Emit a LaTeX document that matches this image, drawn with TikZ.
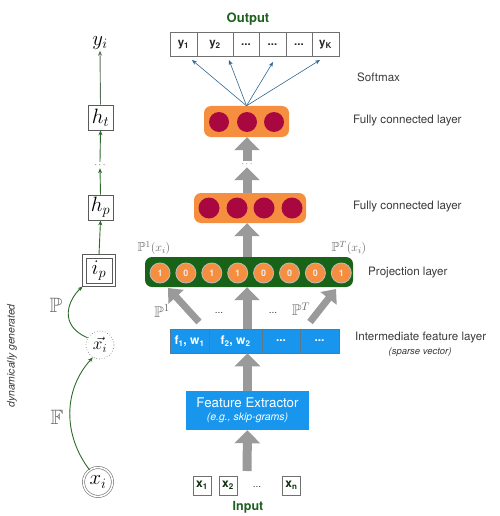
\documentclass[tikz,border=0pt]{standalone}
\usepackage{amssymb}
\usepackage[no-math]{fontspec}
\setmainfont{TeX Gyre Heros}
\setsansfont{TeX Gyre Heros}
\usetikzlibrary{arrows.meta,calc}
\definecolor{outgreen}{HTML}{1F5F1F}
\definecolor{projgreen}{HTML}{186318}
\definecolor{fcorange}{HTML}{F68E40}
\definecolor{magentac}{HTML}{A8083F}
\definecolor{featblue}{HTML}{1896EE}
\definecolor{arrgray}{HTML}{9A9A9A}
\definecolor{softblue}{HTML}{3B7FB8}
\definecolor{txtgray}{HTML}{383C38}
\definecolor{leftgreen}{HTML}{2D6B2D}
\definecolor{cellgray}{HTML}{707070}
\definecolor{mathgray}{HTML}{6A6A6A}
\begin{document}
\begin{tikzpicture}[x=1pt,y=-1pt,
  lbl/.style={font=\fontsize{11.6}{13}\selectfont, text=txtgray, anchor=west, inner sep=0},
  outcell/.style={draw=cellgray, line width=0.6, minimum height=24, inner sep=0, font=\fontsize{11.5}{13}\selectfont\bfseries, text=black!85},
  featcell/.style={draw=cellgray!80!featblue, line width=0.5, fill=featblue, minimum height=24, inner sep=0, font=\fontsize{12}{13}\selectfont\bfseries, text=white},
  incell/.style={draw=cellgray, line width=0.6, minimum width=18, minimum height=19, inner sep=0, font=\fontsize{12}{12}\selectfont\bfseries, text=outgreen!50!black},
  fcbox/.style={fill=fcorange, rounded corners=7, inner sep=0},
  neuron/.style={circle, fill=magentac, inner sep=0, minimum size=20},
  projunit/.style={circle, fill=fcorange, draw=gray!55, line width=0.9, inner sep=0, minimum size=20, font=\fontsize{9}{10}\selectfont\bfseries, text=white!85!gray},
  fat/.style={draw=arrgray, line width=9pt, -{Triangle[width=25pt,length=13pt]}},
  fatdiag/.style={draw=arrgray, line width=7pt, -{Triangle[width=20pt,length=12pt]}},
  softarrow/.style={draw=softblue!80!black, line width=0.6, -{Stealth[length=5pt,width=4pt]}},
  garrow/.style={draw=leftgreen, line width=0.9, -{Stealth[length=5pt,width=4pt]}},
  mbox/.style={draw=cellgray!80!black, line width=0.7, inner sep=0, minimum width=25, minimum height=25, font=\huge},
  title/.style={font=\fontsize{13}{15}\selectfont\bfseries, text=outgreen, inner sep=0}
]
\useasboundingbox (0,0) rectangle (499,516);

% ---------- Output ----------
\node[title] (outlbl) at (248,19) {Output};
\node[outcell, minimum width=27] (o1) at (183.5,44.5) {y\textsubscript{1}};
\node[outcell, minimum width=36] (o2) at (215,44.5) {y\textsubscript{2}};
\node[outcell, minimum width=26] (o3) at (246,44.5) {...};
\node[outcell, minimum width=27] (o4) at (272.5,44.5) {...};
\node[outcell, minimum width=26] (o5) at (299,44.5) {...};
\node[outcell, minimum width=27] (o6) at (325.5,44.5) {y\textsubscript{K}};

% ---------- FC top ----------
\node[fcbox, minimum width=85, minimum height=31] (fc1) at (246.5,121.5) {};
\node[neuron] (n11) at (219,122) {};
\node[neuron] (n12) at (247,122) {};
\node[neuron] (n13) at (274,122) {};

\coordinate (t1) at (192,60);
\coordinate (t2) at (229,60);
\coordinate (t3) at (273,62);
\coordinate (t4) at (320,60);
\foreach \t in {t1,t2,t3,t4} \draw[softarrow] (fc1.north) -- (\t);

% ---------- FC second ----------
\node[fcbox, minimum width=112, minimum height=30] (fc2) at (250,208) {};
\foreach \x/\n in {209/1,237/2,264/3,292/4}
  \node[neuron, minimum size=21] (n2\n) at (\x,208) {};

\node[inner sep=1, font=\small, text=txtgray] (vdots) at (247,164) {$\cdots$};
\draw[fat] (fc2.north -| vdots) -- (vdots.south);
\draw[fat] (vdots.north) -- (vdots.north |- fc1.south);

% ---------- Projection ----------
\node[fill=projgreen, rounded corners=7, minimum width=208, minimum height=30, inner sep=0] (proj) at (249,272) {};
\foreach \d [count=\k from 0] in {1,0,1,1,0,0,0,1}
  \node[projunit] (p\k) at ({160+25.9*\k},273) {\d};
\draw[fat] (proj.north -| vdots) -- (vdots |- fc2.south);

\node[font=\fontsize{13}{14}\selectfont, text=mathgray, inner sep=0] (ptop1) at (154,248) {$\mathbb{P}^1(x_i)$};
\node[font=\fontsize{13}{14}\selectfont, text=mathgray, inner sep=0] (ptopT) at (349,248) {$\mathbb{P}^T(x_i)$};

% ---------- Intermediate ----------
\node[featcell, minimum width=39] (c1) at (189.5,341) {f\textsubscript{1}, w\textsubscript{1}};
\node[featcell, minimum width=53] (c2) at (235.5,341) {f\textsubscript{2}, w\textsubscript{2}};
\node[featcell, minimum width=38] (c3) at (281,341) {...};
\node[featcell, minimum width=39] (c4) at (319.5,341) {...};

\coordinate (ltail) at (199,322);
\coordinate (lhead) at (168,288);
\coordinate (rtail) at (310,322);
\coordinate (rhead) at (336,289);
\coordinate (mtail) at (247,329);
\draw[fatdiag] (ltail) -- (lhead);
\draw[fatdiag] (rtail) -- (rhead);
\draw[fat] (mtail) -- (mtail |- proj.south);

\node[font=\fontsize{15.5}{17}\selectfont, text=mathgray, inner sep=0] (pl1) at (162,311) {$\mathbb{P}^1$};
\node[font=\fontsize{15.5}{17}\selectfont, text=mathgray, inner sep=0] (plT) at (301,309) {$\mathbb{P}^T$};
\node[font=\normalsize, text=txtgray, inner sep=0] (hd1) at (219,313) {...};
\node[font=\normalsize, text=txtgray, inner sep=0] (hd2) at (273,313) {...};

% ---------- Feature extractor ----------
\node[fill=featblue, minimum width=123, minimum height=39, inner sep=0, align=center, text=white, font=\fontsize{13.3}{15}\selectfont] (fe) at (247.5,410.5)
  {Feature Extractor\\[-2pt]{\fontsize{10.5}{11}\selectfont\itshape (e.g., skip-grams)}};
\draw[fat] (fe.north) -- (fe.north |- c2.south);

% ---------- Input ----------
\node[incell] (x1) at (202,485.5) {x\textsubscript{1}};
\node[incell] (x2) at (228,485.5) {x\textsubscript{2}};
\node[inner sep=0, text=txtgray] (xd) at (257,487) {...};
\node[incell] (xn) at (291.5,485.5) {x\textsubscript{n}};
\coordinate (intail) at (247,471);
\draw[fat] (intail) -- (fe.south);
\node[title, font=\fontsize{12.5}{14}\selectfont\bfseries] (inlbl) at (248,507) {Input};

% ---------- Right labels ----------
\node[lbl] (lsoft) at (357,77) {Softmax};
\node[lbl] (lfc1) at (353,121) {Fully connected layer};
\node[lbl] (lfc2) at (353,207) {Fully connected layer};
\node[lbl] (lproj) at (368,273) {Projection layer};
\node[lbl] (linter) at (355,338) {Intermediate feature layer};
\node[font=\fontsize{9.5}{10}\selectfont\itshape, text=txtgray, inner sep=0] (lsparse) at (420,352) {(sparse vector)};

% ---------- Left column ----------
\node[font=\huge, inner sep=1] (yi) at (100,43) {$y_i$};
\node[mbox] (ht) at (100.5,117.5) {$h_t$};
\node[inner sep=1, font=\small] (ldots) at (100,165) {$\cdots$};
\node[mbox] (hp) at (100.5,207.5) {$h_p$};
\node[mbox, minimum width=26, minimum height=25] (ip) at (99,270.5) {$i_p$};
\draw[draw=cellgray!80!black, line width=0.7] ($(ip.south west)+(-3,3)$) rectangle ($(ip.north east)+(3,-3)$);
\coordinate (ipcorner) at ($(ip.south west)+(-3,3)$);
\node[circle, draw=gray, dotted, line width=0.7, minimum size=28, inner sep=0, font=\LARGE] (xvec) at (100,345) {$\vec{x_i}$};
\node[circle, draw=cellgray, double=white, double distance=1.6pt, line width=0.6, minimum size=29, inner sep=0, font=\huge] (xi) at (98,482) {$x_i$};

\draw[garrow, draw=cellgray!70!leftgreen] (ht.north) -- (yi.south);
\draw[garrow] (ldots.north) -- (ht.south);
\draw[garrow] (hp.north) -- (ldots.south);
\draw[garrow] ($(ip.north)+(0,-3)$) -- (hp.south);
\draw[garrow] (xi.125) .. controls (63,435) and (63,390) .. (xvec.240);
\draw[garrow] (xvec.150) .. controls (58,325) and (68,300) .. (ipcorner);

\node[font=\huge, text=mathgray, inner sep=0] (bbP) at (56,305) {$\mathbb{P}$};
\node[font=\huge, text=mathgray, inner sep=0] (bbF) at (57,417) {$\mathbb{F}$};
\node[rotate=90, font=\fontsize{10.4}{12}\selectfont\itshape, text=txtgray, inner sep=0] (dyn) at (12,356) {dynamically generated};
\end{tikzpicture}
\end{document}
